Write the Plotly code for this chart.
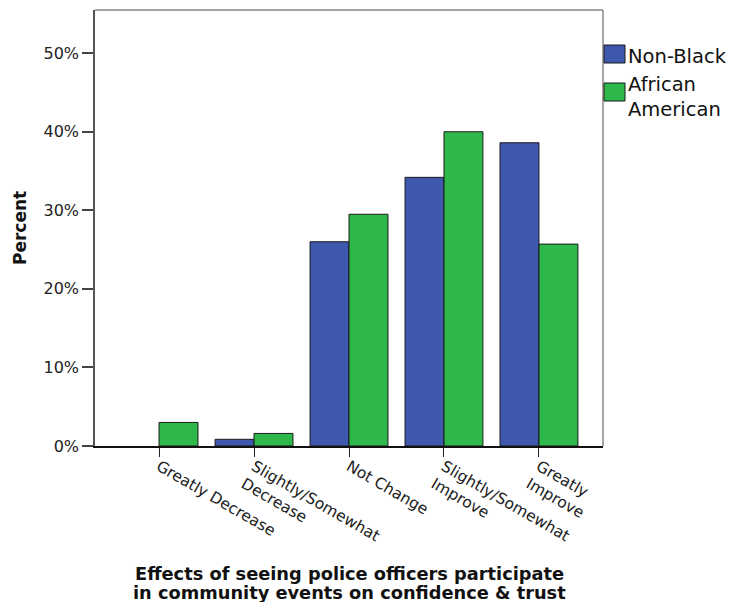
import plotly.graph_objects as go

categories = ["Greatly Decrease", "Slightly/Somewhat<br>Decrease", "Not Change",
              "Slightly/Somewhat<br>Improve", "Greatly<br>Improve"]
series_names = ["Non-Black", "African<br>American"]
non_black = [0.0, 0.85, 26.0, 34.2, 38.6]
african_american = [3.0, 1.6, 29.5, 40.0, 25.7]
y_ticks = [0, 10, 20, 30, 40, 50]
y_tick_labels = ["0%", "10%", "20%", "30%", "40%", "50%"]
x_title_lines = ["Effects of seeing police officers participate",
                 "in community events on confidence &amp; trust"]
y_title = "Percent"
colors = ["#3d58ac", "#2eb84a"]

FONT = "DejaVu Sans"
x_idx = list(range(len(categories)))

L, R, T, B = 95, 130, 10, 156
W, H = 733, 602
plot_w = W - L - R
plot_h = H - T - B

def px_x(px):
    return (px - L) / plot_w

def px_y(py):
    return (H - B - py) / plot_h

fig = go.Figure()
for name, vals, col in zip(series_names, [non_black, african_american], colors):
    fig.add_trace(go.Bar(
        x=x_idx, y=vals, name=name, marker_color=col,
        marker_line_color="#1a1a1a",
        marker_line_width=[0 if v == 0 else 1 for v in vals],
        showlegend=False,
    ))

fig.update_layout(
    width=W, height=H,
    margin=dict(l=L, r=R, t=T, b=B, autoexpand=False),
    paper_bgcolor="white", plot_bgcolor="white",
    barmode="group", bargap=0.18, bargroupgap=0,
    font=dict(family=FONT, color="#222", size=15),
    xaxis=dict(
        range=[-0.674, 4.674], tickmode="array", tickvals=x_idx, ticktext=categories,
        tickangle=30, ticks="outside", ticklen=9, tickcolor="#222", tickwidth=1,
        ticklabelstandoff=-5,
        showline=True, linecolor="#111", linewidth=1.5, showgrid=False, zeroline=False,
        tickfont=dict(family=FONT, size=15.5, color="#222"), automargin=False,
    ),
    yaxis=dict(
        range=[0, 55.5], tickmode="array", tickvals=y_ticks, ticktext=y_tick_labels,
        ticks="outside", ticklen=11, tickcolor="#444", tickwidth=1.5,
        showline=True, linecolor="#555", linewidth=1.5, showgrid=False, zeroline=False,
        tickfont=dict(family=FONT, size=16, color="#222"), automargin=False,
    ),
)

# frame top/right
fig.add_shape(type="line", xref="paper", yref="paper", x0=0, x1=1, y0=1, y1=1,
              line=dict(color="#888", width=1.5))
fig.add_shape(type="line", xref="paper", yref="paper", x0=1, x1=1, y0=0, y1=1,
              line=dict(color="#888", width=1.5))

# y-axis title
fig.add_annotation(text="<b>" + y_title + "</b>", xref="paper", yref="paper",
                   x=px_x(20), y=0.5, xanchor="center", yanchor="middle", textangle=-90,
                   showarrow=False, font=dict(family=FONT, size=17, color="#111"))

# x-axis title (two tightly spaced lines)
for line, cy in zip(x_title_lines, [573, 592]):
    fig.add_annotation(text="<b>" + line + "</b>", xref="paper", yref="paper",
                       x=0.5, y=px_y(cy), xanchor="center", yanchor="middle",
                       showarrow=False, font=dict(family=FONT, size=17.8, color="#111"))

# manual legend
for (top, bot), col in zip([(45, 63), (83, 101)], colors):
    fig.add_shape(type="rect", xref="paper", yref="paper",
                  x0=px_x(604), x1=px_x(625), y0=px_y(bot), y1=px_y(top),
                  fillcolor=col, line=dict(color="#1a1a1a", width=1))
for name, top in zip(series_names, [43, 71]):
    fig.add_annotation(text=name, xref="paper", yref="paper",
                       x=px_x(626), y=px_y(top), xanchor="left", yanchor="top",
                       showarrow=False, align="left",
                       font=dict(family=FONT, size=19.5, color="#111"))

fig.write_html("out.html", config={"displayModeBar": False},
               post_script="document.body.style.margin='0';")
